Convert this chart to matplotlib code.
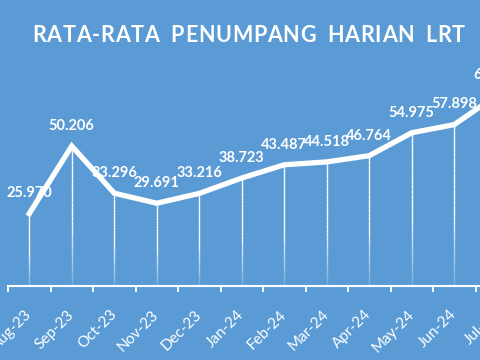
import matplotlib
matplotlib.use("Agg")
import matplotlib.pyplot as plt
import numpy as np

months = ["Aug-23", "Sep-23", "Oct-23", "Nov-23", "Dec-23", "Jan-24",
          "Feb-24", "Mar-24", "Apr-24", "May-24", "Jun-24", "Jul-24"]
passengers = [25970, 50206, 33296, 29691, 33216, 38723,
              43487, 44518, 46764, 54975, 57898, 68400]
title = "RATA-RATA PENUMPANG HARIAN LRT"

bg = "#5B9BD5"
plt.rcParams['font.family'] = ['Lato', 'DejaVu Sans']

fig = plt.figure(figsize=(4.8, 3.6), dpi=100)
fig.patch.set_facecolor(bg)
ax = fig.add_axes([8/480, 74/360, 510/480, 223/360])
ax.set_facecolor(bg)

x = np.arange(len(months))
y = np.array(passengers, dtype=float)

# fading drop lines
nseg = 30
for xi, yi in zip(x, y):
    edges = np.linspace(0, yi, nseg + 1)
    for k in range(nseg):
        a = 0.15 + 0.85 * min(1.0, (k + 0.5) / nseg * 2.2)
        ax.plot([xi, xi], [edges[k], edges[k + 1]], color="white",
                lw=1.0, alpha=a, solid_capstyle="butt", zorder=2)

ax.plot(x, y, color="white", lw=3.8, solid_joinstyle="miter", zorder=3)

for xi, yi in zip(x, y):
    ax.annotate(f"{int(yi):,}".replace(",", "."), (xi, yi),
                xytext=(0, 14.5), textcoords="offset points",
                ha="center", va="center", color="white",
                fontsize=10.5, fontweight="bold", zorder=4)

ax.set_xlim(-0.5, len(months) - 0.5)
ax.set_ylim(0, 80000)

ax.set_xticks(x)
ax.set_xticklabels(months, rotation=45, ha="right", va="center",
                   rotation_mode="anchor", color="white", fontsize=11)
ax.tick_params(axis="x", which="major", length=0, pad=19)
ax.set_xticks(np.arange(-0.5, len(months) + 0.5, 1.0), minor=True)
ax.tick_params(axis="x", which="minor", length=4, width=1.3,
               color="white", direction="out")
ax.set_yticks([])

for s in ["top", "left", "right"]:
    ax.spines[s].set_visible(False)
ax.spines["bottom"].set_color("white")
ax.spines["bottom"].set_linewidth(1.5)

# title with letter spacing
renderer = fig.canvas.get_renderer()
left_px, right_px, ymid = 32, 465, 1 - 35/360
chars = []
widths = []
for ch in title:
    t = fig.text(0, ymid, ch if ch != " " else "\u00a0", color="white",
                 fontsize=15.5, fontweight="bold", ha="left", va="center")
    w = t.get_window_extent(renderer).width
    if ch == " ":
        w = 10.0
    chars.append(t)
    widths.append(w)
track = (right_px - left_px - sum(widths)) / (len(title) - 1)
pos = left_px
for t, w in zip(chars, widths):
    t.set_x(pos / 480)
    pos += w + track

fig.savefig("out.png", dpi=100, facecolor=bg)
